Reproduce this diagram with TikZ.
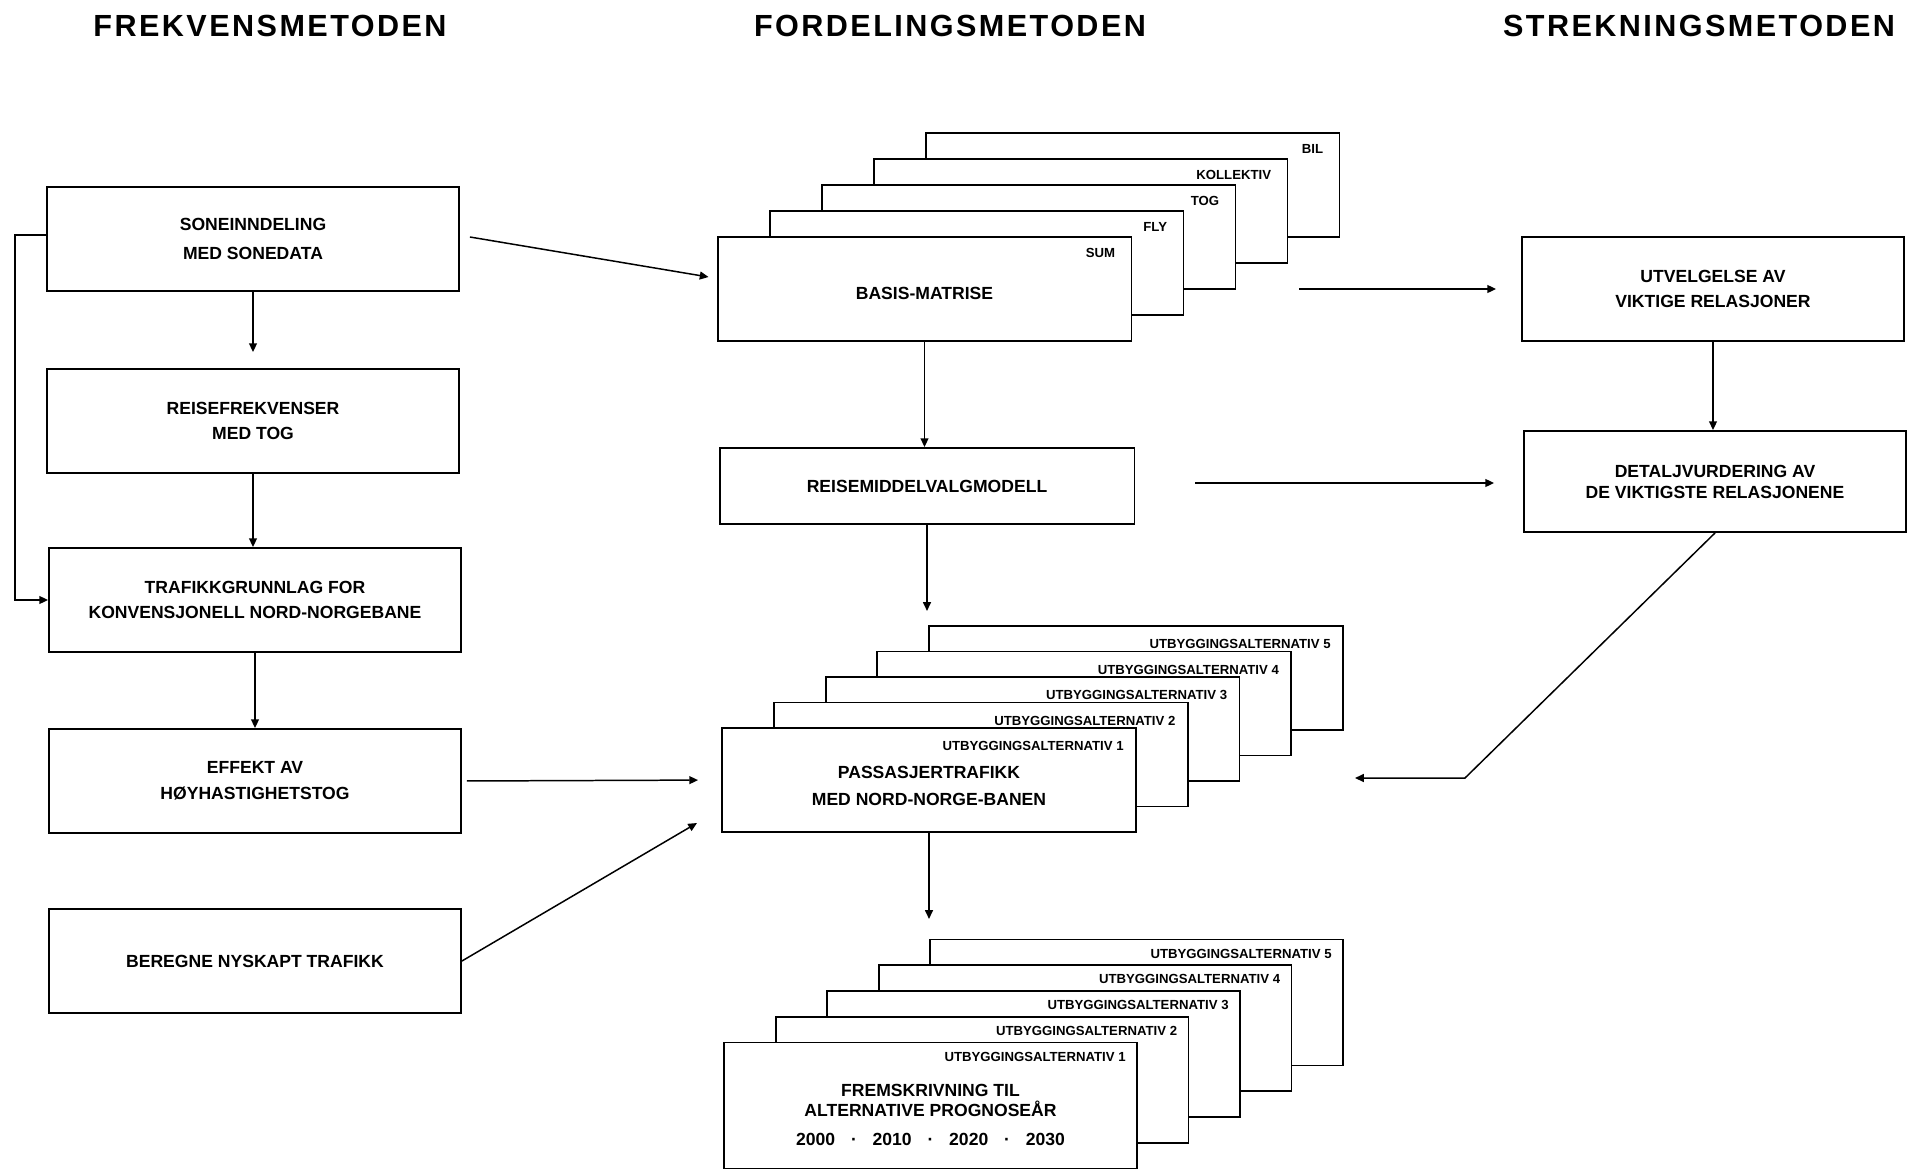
\documentclass[tikz,border=0pt]{standalone}
\usepackage{fontspec}
\setmainfont{Liberation Sans}
\newfontfamily\titlefont{Liberation Sans}[LetterSpace=8]
\usetikzlibrary{arrows.meta}

\tikzset{
	box/.style={draw, line width=1.1pt, fill=white, inner sep=0pt, minimum width=8.24cm, minimum height=2.08cm},
	txt/.style={align=center, font=\fontsize{10}{14.7}\selectfont\bfseries},
	tag/.style={anchor=east, inner sep=0pt, font=\fontsize{7.5}{9}\selectfont\bfseries},
	heading/.style={font=\titlefont\fontsize{17.4}{20}\selectfont\bfseries},
	arr/.style={line width=0.85pt, -{Triangle[length=5pt, width=4.5pt]}}
}

\begin{document}
\begin{tikzpicture}[x=0.02cm, y=-0.02cm]
			\useasboundingbox (0,0) rectangle (1907,1170);
			
			\node[heading] (hfrek) at (270,26) {FREKVENSMETODEN};
			\node[heading] (hford) at (950,26) {FORDELINGSMETODEN};
			\node[heading] (hstrek) at (1699,26) {STREKNINGSMETODEN};
			
			% frekvensmetoden
			\node[box, txt] (sone) at (253,239) {SONEINNDELING\\[2.3pt]MED SONEDATA};
			\node[box, txt] (reise) at (253,421) {REISEFREKVENSER\\MED TOG};
			\node[box, txt] (trafikk) at (255,600) {TRAFIKKGRUNNLAG FOR\\KONVENSJONELL NORD-NORGEBANE};
			\node[box, txt] (effekt) at (255,781) {EFFEKT AV\\HØYHASTIGHETSTOG};
			\node[box, txt] (beregne) at (255,961) {BEREGNE NYSKAPT TRAFIKK};
			
			% fordelingsmetoden
			\def\dx{52}
			\def\dy{26}
			\foreach \i/\t in {5/BIL, 4/KOLLEKTIV, 3/TOG, 2/FLY, 1/SUM} {
				\node[box, minimum width=8.28cm] (basis\i) at ({924.5+\dx*(\i-1)}, {289-\dy*(\i-1)}) {};
				\node[tag] (basistag\i) at ([xshift=-0.34cm, yshift=-0.34cm]basis\i.north east) {\t};
			}
			\node[txt] (basistxt) at ([yshift=-0.08cm]basis1.center) {BASIS-MATRISE};
			
			\node[box, txt, minimum width=8.3cm, minimum height=1.52cm] (reisem) at (927,486) {REISEMIDDELVALGMODELL};
			
			\foreach \i in {5,4,3,2,1} {
				\node[box, minimum width=8.28cm] (pass\i) at ({929+51.75*(\i-1)}, {780-25.5*(\i-1)}) {};
				\node[tag] (passtag\i) at ([xshift=-0.26cm, yshift=-0.38cm]pass\i.north east) {UTBYGGINGSALTERNATIV \i};
			}
			\node[txt] (passtxt) at ([yshift=-0.12cm]pass1.center) {PASSASJERTRAFIKK\\[0.6pt]MED NORD-NORGE-BANEN};
			
			\foreach \i in {5,4,3,2,1} {
				\node[box, minimum width=8.26cm, minimum height=2.52cm] (frem\i) at ({930.5+51.5*(\i-1)}, {1105.5-25.75*(\i-1)}) {};
				\node[tag] (fremtag\i) at ([xshift=-0.24cm, yshift=-0.3cm]frem\i.north east) {UTBYGGINGSALTERNATIV \i};
			}
			\node[txt] (fremtxt) at ([yshift=-0.19cm]frem1.center) {FREMSKRIVNING TIL\\[-3.4pt]ALTERNATIVE PROGNOSEÅR\\[1.7pt]2000\hspace{9pt}·\hspace{9pt}2010\hspace{9pt}·\hspace{9pt}2020\hspace{9pt}·\hspace{9pt}2030};
			
			% strekningsmetoden
			\node[box, txt, minimum width=7.64cm] (utv) at (1713,289) {UTVELGELSE AV\\VIKTIGE RELASJONER};
			\node[box, txt, minimum width=7.64cm, minimum height=2.02cm] (detalj) at (1715,481.5) {DETALJVURDERING AV\\[-2.7pt]DE VIKTIGSTE RELASJONENE};
			
			\coordinate (beregneto) at (697,823);
			\coordinate (basisout) at (1299,289);
			\coordinate (reisemout) at (1195,483);
			\coordinate (detaljknee) at (1465,778);
			\coordinate (detaljto) at (1355,778);
			
			\draw[arr] (sone.south) -- ([yshift=0.32cm]reise.north);
			\draw[arr] (reise.south) -- (trafikk.north -| reise.south);
			\draw[arr] (trafikk.south) -- (effekt.north);
			\draw[arr] ([yshift=0.08cm]sone.west) -- ++(-31,0) |- (trafikk.west);
			\draw[arr] ([xshift=0.2cm, yshift=0.04cm]sone.east) -- ([xshift=-0.16cm, yshift=0.24cm]basis1.west);
			\draw[arr, shorten <=0.1cm, shorten >=0.46cm] (effekt.east) -- (pass1.west);
			\draw[arr] (beregne.east) -- (beregneto);
			
			\draw[arr] (basis1.south) -- (basis1.south |- reisem.north);
			\draw[arr] (reisem.south) -- ([yshift=-1.72cm]reisem.south);
			\draw[arr] (pass1.south) -- ([yshift=-1.72cm]pass1.south);
			\draw[arr, shorten >=0.5cm] (basisout) -- (utv.west);
			\draw[arr, shorten >=0.58cm] (reisemout) -- (reisemout -| detalj.west);
			
			\draw[arr] (utv.south) -- (utv.south |- detalj.north);
			\draw[arr] (detalj.south) -- (detaljknee) -- (detaljto);
			
		\end{tikzpicture}
\end{document}
